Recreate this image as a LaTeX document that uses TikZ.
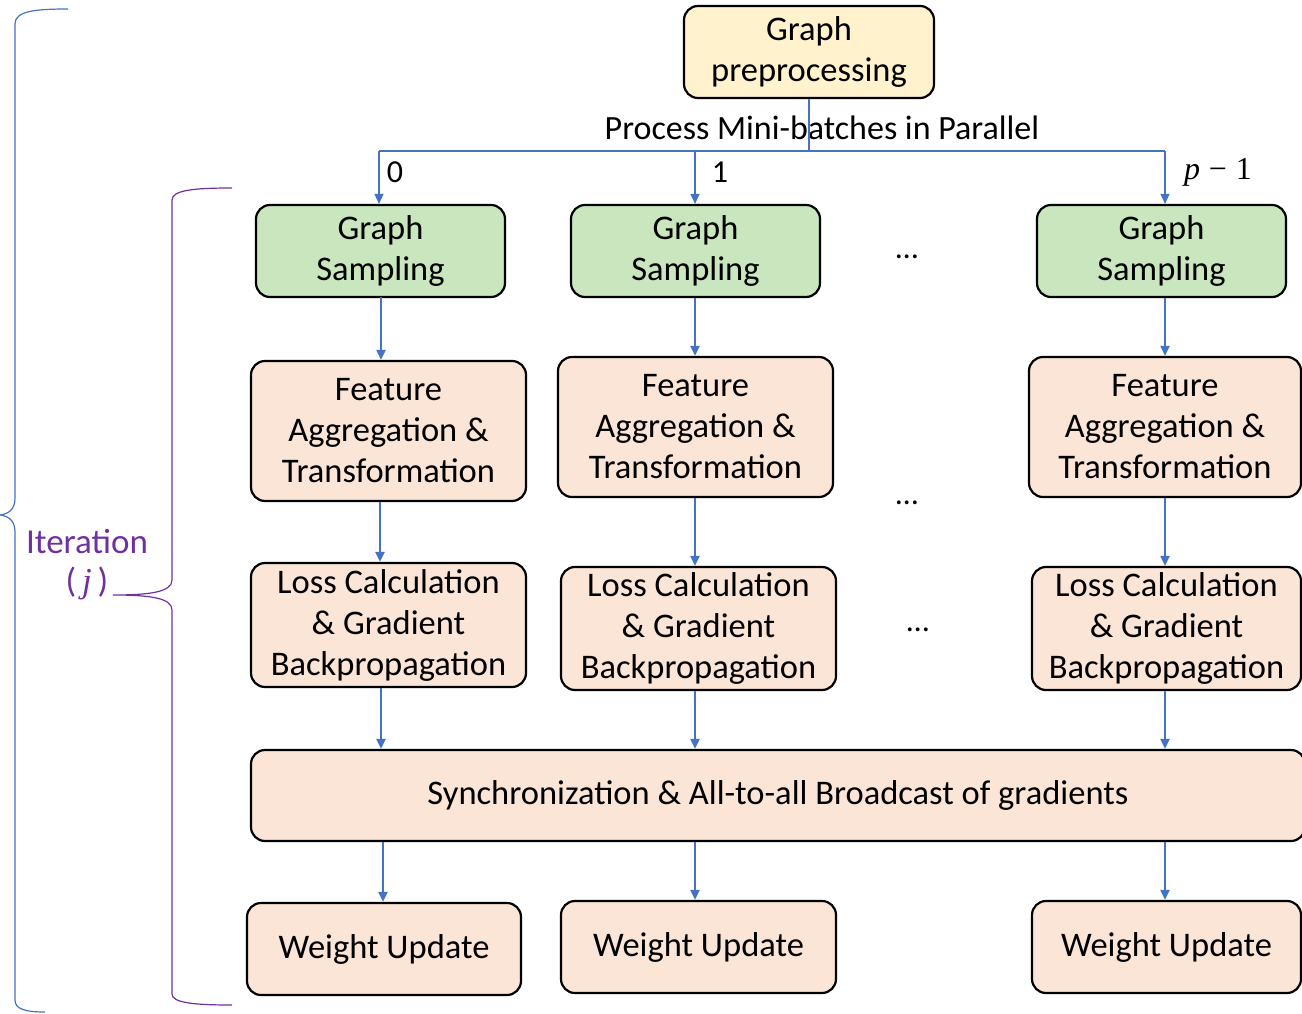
\documentclass[tikz,border=0pt]{standalone}
\usepackage{fontspec}
\setmainfont{Carlito}
\newfontfamily\mathlike{Liberation Serif}
\usetikzlibrary{arrows.meta}
\definecolor{preyellow}{HTML}{FFF2CC}
\definecolor{sampgreen}{HTML}{C9E6BE}
\definecolor{stagepeach}{HTML}{FBE5D6}
\definecolor{flowblue}{HTML}{4472C4}
\definecolor{iterpurple}{HTML}{7030A0}
\begin{document}
\begin{tikzpicture}[x=1pt,y=-1pt,
  box/.style={draw=black, line width=2.2pt, rounded corners=14pt, align=center,
    inner sep=0pt, font=\fontsize{34.5}{41}\selectfont},
  prebox/.style={box, fill=preyellow},
  sampbox/.style={box, fill=sampgreen},
  stagebox/.style={box, fill=stagepeach},
  flow/.style={draw=flowblue, line width=2pt, -{Triangle[length=10pt,width=9pt]}},
  feed/.style={draw=flowblue, line width=1.4pt},
  feedarrow/.style={feed, -{Triangle[length=10pt,width=9pt]}},
  lbl/.style={font=\fontsize{34}{38}\selectfont, inner sep=0pt},
  numlbl/.style={font=\fontsize{32}{36}\selectfont, inner sep=0pt},
  dotsl/.style={font=\fontsize{32}{36}\selectfont, inner sep=0pt},
  itertext/.style={text=iterpurple, font=\fontsize{35}{40}\selectfont, inner sep=0pt}
]
\useasboundingbox (0,0) rectangle (1302,1014);

% root task
\node[prebox, minimum width=250pt, minimum height=92pt] (pre) at (809,52) {Graph\\preprocessing};

% worker columns
\node[sampbox, minimum width=249pt, minimum height=92pt] (s1) at (380.5,251) {Graph\\Sampling};
\node[sampbox, minimum width=249pt, minimum height=92pt] (s2) at (695.5,251) {Graph\\Sampling};
\node[sampbox, minimum width=249pt, minimum height=92pt] (s3) at (1161.5,251) {Graph\\Sampling};

\node[stagebox, minimum width=275pt, minimum height=140pt] (f1) at (388.5,431) {Feature\\Aggregation \&\\Transformation};
\node[stagebox, minimum width=275pt, minimum height=140pt] (f2) at (695.5,427) {Feature\\Aggregation \&\\Transformation};
\node[stagebox, minimum width=272pt, minimum height=140pt] (f3) at (1165,427) {Feature\\Aggregation \&\\Transformation};

\node[stagebox, minimum width=275pt, minimum height=124pt] (l1) at (388.5,625) {Loss Calculation\\\& Gradient\\Backpropagation};
\node[stagebox, minimum width=275pt, minimum height=123pt] (l2) at (698.5,628.5) {Loss Calculation\\\& Gradient\\Backpropagation};
\node[stagebox, minimum width=269pt, minimum height=123pt] (l3) at (1166.5,628.5) {Loss Calculation\\\& Gradient\\Backpropagation};

\node[stagebox, minimum width=1054pt, minimum height=91pt] (sync) at (778,795.5) {Synchronization \& All-to-all Broadcast of gradients};

\node[stagebox, minimum width=274pt, minimum height=92pt] (w1) at (384,949) {Weight Update};
\node[stagebox, minimum width=275pt, minimum height=92pt] (w2) at (698.5,947) {Weight Update};
\node[stagebox, minimum width=269pt, minimum height=92pt] (w3) at (1166.5,947) {Weight Update};

% ellipses between columns
\node[dotsl] (d1) at (907,257) {\dots};
\node[dotsl] (d2) at (907,503) {\dots};
\node[dotsl] (d3) at (918,630) {\dots};

% distribution of mini-batches
\coordinate (split) at (809,151);
\coordinate (b1) at (379,151);
\coordinate (b2) at (695,151);
\coordinate (b3) at (1165,151);
\node[lbl] (par) at (822,128) {Process Mini-batches in Parallel};
\draw[feed] (pre.south -| split) -- (split);
\draw[feed] (b1) -- (b3);
\draw[feedarrow] (b1) -- (s1.north -| b1);
\draw[feedarrow] (b2) -- (s2.north -| b2);
\draw[feedarrow] (b3) -- (s3.north -| b3);
\node[numlbl] (n0) at (395,172) {0};
\node[numlbl] (n1) at (720,172) {1};
\node[numlbl] (np) at (1218,172) {{\mathlike\itshape p}\;{\mathlike −}\;{\mathlike 1}};

% per-column flow
\draw[flow] (381,297) -- (f1.north -| 381,0);
\draw[flow] (s2.south -| 695,0) -- (f2.north -| 695,0);
\draw[flow] (s3.south -| 1165,0) -- (f3.north -| 1165,0);

\draw[flow] (f1.south -| 380,0) -- (l1.north -| 380,0);
\draw[flow] (f2.south -| 695,0) -- (l2.north -| 695,0);
\draw[flow] (f3.south -| 1165,0) -- (l3.north -| 1165,0);

\draw[flow] (l1.south -| 381,0) -- (sync.north -| 381,0);
\draw[flow] (l2.south -| 695,0) -- (sync.north -| 695,0);
\draw[flow] (l3.south -| 1165,0) -- (sync.north -| 1165,0);

\draw[flow] (sync.south -| 383,0) -- (w1.north -| 383,0);
\draw[flow] (sync.south -| 695,0) -- (w2.north -| 695,0);
\draw[flow] (sync.south -| 1165,0) -- (w3.north -| 1165,0);

% iteration braces
\draw[flowblue, line width=1.2pt]
  (68,9) .. controls (35,9) and (15,11) .. (15,24) -- (15,498)
  .. controls (15,510) and (8,514) .. (0,515)
  .. controls (8,516) and (15,520) .. (15,532) -- (15,1000)
  .. controls (15,1009) and (25,1012) .. (45,1012);
\draw[iterpurple, line width=1.2pt]
  (232,188) .. controls (195,188) and (172,190) .. (172,200) -- (172,580)
  .. controls (172,592) and (150,595) .. (113,595)
  .. controls (150,595) and (172,598) .. (172,610) -- (172,994)
  .. controls (172,1003) and (195,1005) .. (232,1005);
\node[itertext] (iter) at (87,542) {Iteration};
\node[itertext] (iterj) at (87,583) {(\,{\mathlike\itshape j}\,)};
\end{tikzpicture}
\end{document}
